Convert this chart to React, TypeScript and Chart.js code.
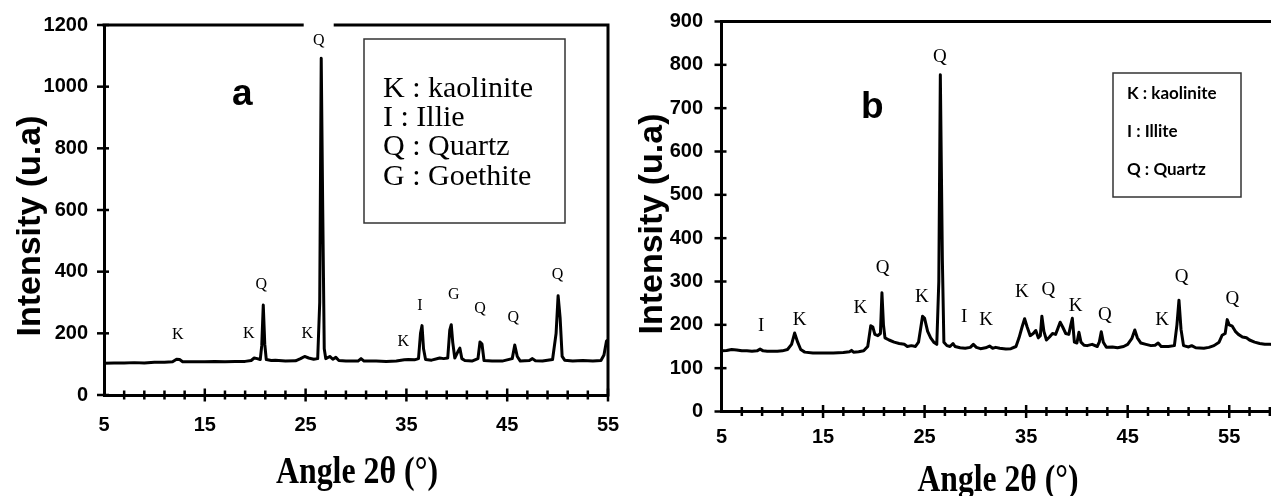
import React, { useEffect, useRef } from "react";
import { Chart, registerables } from "chart.js";

Chart.register(...registerables);

// ---------- Panel a data ----------
const angleA = [5, 6, 7, 8, 9, 10, 11, 11.8, 12.2, 12.5, 12.8, 14, 15, 16, 17, 18, 19, 19.6, 19.9, 20.2, 20.5, 20.65, 20.8, 20.95, 21.1, 21.6, 22, 23, 24, 24.5, 24.9, 25.3, 25.8, 26.2, 26.4, 26.55, 26.7, 26.85, 27.0, 27.4, 27.7, 28.0, 28.3, 29, 30.2, 30.5, 30.8, 32, 33, 34, 34.8, 35.2, 35.8, 36.2, 36.4, 36.55, 36.7, 36.9, 37.5, 38.3, 38.7, 39.1, 39.3, 39.45, 39.6, 39.8, 40.1, 40.3, 40.5, 40.8, 41.5, 42.1, 42.3, 42.5, 42.7, 43.5, 44.5, 45.5, 45.75, 46.0, 46.3, 47.2, 47.5, 47.8, 48.5, 49.5, 49.85, 50.05, 50.25, 50.45, 50.7, 51.5, 52.5, 53.5, 54.3, 54.6, 54.85, 55];
const intensityA = [103, 104, 104, 105, 104, 106, 106, 108, 116, 115, 108, 108, 108, 109, 108, 109, 109, 112, 120, 118, 115, 160, 292, 165, 115, 112, 113, 110, 111, 118, 125, 120, 116, 118, 300, 1092, 600, 150, 118, 125, 116, 122, 112, 110, 110, 118, 110, 110, 109, 110, 114, 115, 114, 118, 200, 225, 150, 115, 113, 120, 118, 120, 210, 228, 170, 120, 140, 152, 118, 112, 110, 118, 172, 165, 112, 110, 110, 118, 162, 125, 110, 112, 118, 111, 110, 115, 200, 322, 250, 125, 113, 110, 112, 110, 112, 130, 175, 178];
const xTickLabelsA = [5, 15, 25, 35, 45, 55];
const tagsA = ["K", "K", "Q", "K", "Q", "K", "I", "G", "Q", "Q", "Q"];
const tagAngleA = [12.33, 19.36, 20.6, 25.17, 26.3, 34.7, 36.35, 39.7, 42.3, 45.6, 50.0];
const tagIntensityA = [195, 200, 357, 200, 1148, 173, 289, 324, 279, 252, 389];
const legendA = ["K : kaolinite", "I : Illie", "Q : Quartz", "G : Goethite"];

// ---------- Panel b data ----------
const angleB = [5.0, 5.5, 6.0, 6.5, 7.0, 7.5, 8.0, 8.5, 8.8, 9.1, 9.5, 10, 10.5, 11.0, 11.5, 11.9, 12.2, 12.5, 12.8, 13.2, 14, 15, 16, 17, 17.6, 17.8, 18.0, 18.5, 19.0, 19.4, 19.7, 19.9, 20.1, 20.4, 20.65, 20.8, 20.95, 21.1, 21.5, 22, 22.5, 23.0, 23.3, 23.7, 24.1, 24.4, 24.6, 24.8, 25.0, 25.3, 25.6, 25.9, 26.2, 26.4, 26.55, 26.75, 26.9, 27.2, 27.5, 27.8, 28.0, 28.5, 29.0, 29.5, 29.8, 30.1, 30.5, 31.0, 31.4, 31.7, 32.0, 32.4, 33, 33.5, 34.0, 34.3, 34.6, 34.85, 35.1, 35.4, 35.7, 35.95, 36.2, 36.4, 36.55, 36.75, 37.0, 37.3, 37.6, 37.9, 38.1, 38.35, 38.6, 38.9, 39.2, 39.4, 39.55, 39.75, 40.0, 40.2, 40.4, 40.7, 41.0, 41.5, 42.0, 42.2, 42.4, 42.6, 42.9, 43.5, 44.0, 44.6, 45.0, 45.4, 45.7, 45.95, 46.3, 46.8, 47.3, 47.7, 48.0, 48.3, 49.0, 49.6, 49.85, 50.05, 50.25, 50.5, 51.0, 51.3, 51.7, 52.5, 53.0, 53.5, 54.0, 54.3, 54.6, 54.8, 55.0, 55.3, 55.6, 55.9, 56.3, 56.7, 57.0, 57.5, 58.0, 58.5, 59.0, 59.5, 60];
const intensityB = [140, 141, 143, 142, 140, 140, 139, 140, 144, 140, 139, 139, 139, 140, 143, 155, 181, 160, 143, 137, 135, 135, 135, 136, 138, 141, 137, 138, 140, 150, 198, 195, 178, 175, 180, 274, 200, 170, 165, 160, 157, 155, 150, 152, 150, 160, 190, 220, 215, 185, 170, 160, 155, 300, 777, 350, 160, 152, 150, 157, 150, 147, 146, 148, 155, 148, 145, 147, 151, 146, 148, 146, 144, 145, 150, 170, 195, 214, 195, 175, 180, 187, 170, 175, 220, 185, 165, 172, 180, 178, 190, 206, 195, 180, 178, 200, 215, 160, 158, 183, 160, 153, 152, 155, 150, 160, 184, 160, 148, 149, 147, 150, 155, 168, 188, 170, 158, 155, 152, 153, 158, 150, 150, 152, 200, 257, 190, 152, 149, 152, 147, 146, 148, 152, 160, 176, 180, 212, 200, 197, 185, 178, 172, 170, 165, 160, 157, 155, 155, 154, 153];
const xTickLabelsB = [5, 15, 25, 35, 45, 55];
const tagsB = ["I", "K", "K", "Q", "K", "Q", "I", "K", "K", "Q", "K", "Q", "K", "Q", "Q"];
const tagAngleB = [8.9, 12.7, 18.67, 20.86, 24.73, 26.5, 28.9, 31.06, 34.57, 37.2, 39.88, 42.76, 48.4, 50.3, 55.3];
const tagIntensityB = [197, 211, 238, 330, 265, 819, 219, 211, 276, 280, 243, 223, 211, 311, 259];
const legendB = ["K : kaolinite", "I : Illite", "Q : Quartz"];

const X_TITLE = "Angle 2θ (°)";
const Y_TITLE = "Intensity (u.a)";

type PanelSpec = {
  letter: string;
  angle: number[];
  intensity: number[];
  xMax: number;
  yMax: number;
  yStep: number;
  xTickLabels: number[];
  tags: string[];
  tagAngle: number[];
  tagIntensity: number[];
  tagFont: number;
  boxedTag: number;
  legend: string[];
  canvasLeft: number;
  canvasWidth: number;
  yAxisWidth: number;
  xAxisHeight: number;
  padTop: number;
  padRight: number;
  xLabelPad: number;
  yLabelPad: number;
  xTitle: { cx: number; base: number; size: number; width: number };
  yTitle: { bx: number; cy: number; size: number };
  letterPos: { x: number; base: number; size: number };
  legendBox: { x: number; y: number; w: number; h: number; tx: number; bases: number[]; font: string };
};

const SANS = "'Liberation Sans', Arial, sans-serif";
const SERIF = "'Liberation Serif', 'Times New Roman', serif";

function decorPlugin(p: PanelSpec) {
  return {
    id: "decor" + p.letter,
    afterDraw(chart: any) {
      const ctx: CanvasRenderingContext2D = chart.ctx;
      const { left, right, top, bottom } = chart.chartArea;
      const xs = chart.scales.x;
      const ys = chart.scales.y;
      ctx.save();
      ctx.strokeStyle = "#000";
      ctx.fillStyle = "#000";
      // frame top and right
      ctx.lineWidth = 3;
      ctx.beginPath();
      ctx.moveTo(left - 1.5, top);
      ctx.lineTo(right, top);
      ctx.lineTo(right, bottom + 1.5);
      ctx.stroke();
      // y ticks (cross style)
      ctx.lineWidth = 2.5;
      ys.ticks.forEach((t: any) => {
        const py = ys.getPixelForValue(t.value);
        ctx.beginPath();
        ctx.moveTo(left - 7, py);
        ctx.lineTo(left + 5, py);
        ctx.stroke();
      });
      // x ticks: every 2 degrees, long ones at labelled values
      for (let v = 7; v <= p.xMax; v += 2) {
        const px = xs.getPixelForValue(v);
        const major = p.xTickLabels.indexOf(v) >= 0;
        const h = major ? 6.5 : 4.5;
        ctx.beginPath();
        ctx.moveTo(px, bottom - h);
        ctx.lineTo(px, bottom + h);
        ctx.stroke();
      }
      // peak tags
      ctx.font = `${p.tagFont}px ${SERIF}`;
      ctx.textAlign = "center";
      ctx.textBaseline = "middle";
      p.tags.forEach((t, i) => {
        const px = xs.getPixelForValue(p.tagAngle[i]);
        const py = ys.getPixelForValue(p.tagIntensity[i]);
        if (i === p.boxedTag) {
          ctx.fillStyle = "#fff";
          ctx.fillRect(px - 15, top - 4, 30, py - top + 12);
          ctx.fillStyle = "#000";
        }
        ctx.fillText(t, px, py);
      });
      // legend box
      const lb = p.legendBox;
      ctx.lineWidth = 1.5;
      ctx.strokeStyle = "#333";
      ctx.strokeRect(lb.x, lb.y, lb.w, lb.h);
      ctx.font = lb.font;
      ctx.textAlign = "left";
      ctx.textBaseline = "alphabetic";
      p.legend.forEach((s, i) => ctx.fillText(s, lb.tx, lb.bases[i]));
      // panel letter
      ctx.font = `bold ${p.letterPos.size}px ${SANS}`;
      ctx.fillText(p.letter, p.letterPos.x, p.letterPos.base);
      // x title (condensed bold serif)
      ctx.font = `bold ${p.xTitle.size}px ${SERIF}`;
      const w = ctx.measureText(X_TITLE).width;
      ctx.save();
      ctx.translate(p.xTitle.cx, p.xTitle.base);
      ctx.scale(p.xTitle.width / w, 1);
      ctx.textAlign = "center";
      ctx.fillText(X_TITLE, 0, 0);
      ctx.restore();
      // y title
      ctx.font = `bold ${p.yTitle.size}px ${SANS}`;
      ctx.save();
      ctx.translate(p.yTitle.bx, p.yTitle.cy);
      ctx.rotate(-Math.PI / 2);
      ctx.textAlign = "center";
      ctx.fillText(Y_TITLE, 0, 0);
      ctx.restore();
      ctx.restore();
    },
  };
}

function buildConfig(p: PanelSpec): any {
  const tickFont = { family: SANS, size: 20, weight: "bold" as const };
  return {
    type: "line",
    data: {
      datasets: [
        {
          data: p.angle.map((x, i) => ({ x, y: p.intensity[i] })),
          borderColor: "#000",
          borderWidth: 3,
          borderJoinStyle: "round",
          pointRadius: 0,
          tension: 0,
          fill: false,
        },
      ],
    },
    options: {
      responsive: false,
      animation: false,
      devicePixelRatio: 1,
      layout: { padding: { left: 0, top: p.padTop, right: p.padRight, bottom: 0 } },
      plugins: { legend: { display: false }, tooltip: { enabled: false }, title: { display: false } },
      scales: {
        x: {
          type: "linear",
          min: 5,
          max: p.xMax,
          grid: { display: false, drawTicks: true, tickLength: p.xLabelPad },
          border: { display: true, color: "#000", width: 3 },
          afterBuildTicks: (s: any) => {
            s.ticks = p.xTickLabels.map((v) => ({ value: v }));
          },
          afterFit: (s: any) => {
            s.height = p.xAxisHeight;
          },
          ticks: {
            color: "#000",
            font: tickFont,
            padding: 0,
            maxRotation: 0,
            autoSkip: false,
            callback: (v: any) => String(v),
          },
        },
        y: {
          type: "linear",
          min: 0,
          max: p.yMax,
          grid: { display: false, drawTicks: true, tickLength: p.yLabelPad },
          border: { display: true, color: "#000", width: 3 },
          afterFit: (s: any) => {
            s.width = p.yAxisWidth;
          },
          ticks: {
            stepSize: p.yStep,
            color: "#000",
            font: tickFont,
            padding: 0,
            callback: (v: any) => String(v),
          },
        },
      },
    },
    plugins: [decorPlugin(p)],
  };
}

const panelA: PanelSpec = {
  letter: "a",
  angle: angleA,
  intensity: intensityA,
  xMax: 55,
  yMax: 1200,
  yStep: 200,
  xTickLabels: xTickLabelsA,
  tags: tagsA,
  tagAngle: tagAngleA,
  tagIntensity: tagIntensityA,
  tagFont: 16,
  boxedTag: 4,
  legend: legendA,
  canvasLeft: 0,
  canvasWidth: 630,
  yAxisWidth: 104,
  xAxisHeight: 101,
  padTop: 25,
  padRight: 22,
  xLabelPad: 18,
  yLabelPad: 16,
  xTitle: { cx: 357, base: 483, size: 38, width: 162 },
  yTitle: { bx: 40, cy: 226, size: 34 },
  letterPos: { x: 232, base: 105, size: 37 },
  legendBox: { x: 364, y: 39, w: 201, h: 184, tx: 383, bases: [97, 126, 155, 185], font: `30px ${SERIF}` },
};

const panelB: PanelSpec = {
  letter: "b",
  angle: angleB,
  intensity: intensityB,
  xMax: 60,
  yMax: 900,
  yStep: 100,
  xTickLabels: xTickLabelsB,
  tags: tagsB,
  tagAngle: tagAngleB,
  tagIntensity: tagIntensityB,
  tagFont: 19,
  boxedTag: -1,
  legend: legendB,
  canvasLeft: 630,
  canvasWidth: 680,
  yAxisWidth: 91.5,
  xAxisHeight: 84.5,
  padTop: 21.5,
  padRight: 30,
  xLabelPad: 13.5,
  yLabelPad: 18.5,
  xTitle: { cx: 368, base: 491, size: 37, width: 161 },
  yTitle: { bx: 32, cy: 224, size: 34 },
  letterPos: { x: 231, base: 118, size: 37 },
  legendBox: { x: 483, y: 73, w: 128, h: 124, tx: 497, bases: [99, 137, 175], font: `bold 17px Lato, 'Liberation Sans', sans-serif` },
};

function PanelChart({ spec }: { spec: PanelSpec }) {
  const ref = useRef<HTMLCanvasElement | null>(null);
  useEffect(() => {
    if (!ref.current) return;
    const chart = new Chart(ref.current, buildConfig(spec));
    return () => chart.destroy();
  }, [spec]);
  return (
    <canvas
      ref={ref}
      width={spec.canvasWidth}
      height={496}
      style={{ position: "absolute", left: spec.canvasLeft, top: 0, width: spec.canvasWidth, height: 496 }}
    />
  );
}

export default function App() {
  return (
    <div
      style={{
        position: "fixed",
        left: 0,
        top: 0,
        width: 1271,
        height: 496,
        overflow: "hidden",
        background: "#fff",
      }}
    >
      <PanelChart spec={panelA} />
      <PanelChart spec={panelB} />
    </div>
  );
}
